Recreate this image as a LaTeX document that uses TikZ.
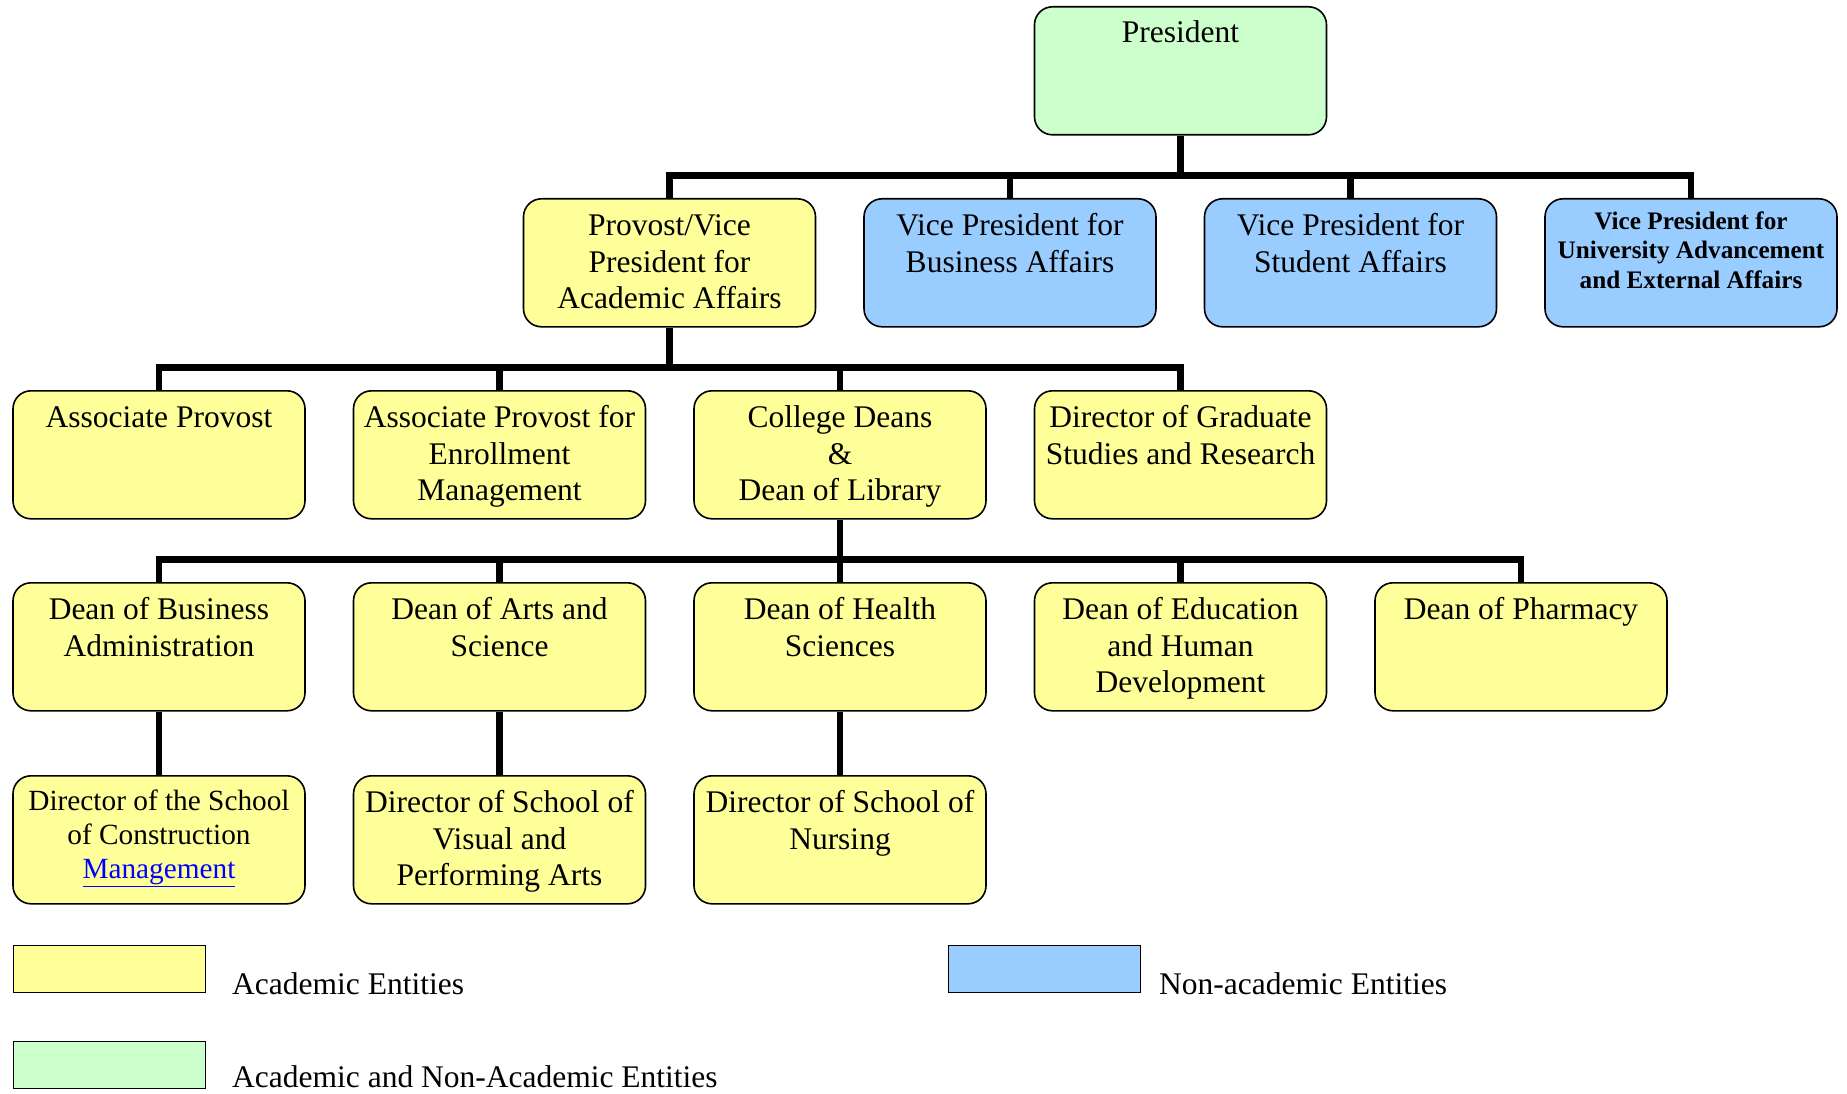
\documentclass[tikz,border=0pt]{standalone}
\usepackage{fontspec}
\setmainfont{Liberation Serif}
\definecolor{acad}{RGB}{255,255,153}
\definecolor{nonacad}{RGB}{153,204,255}
\definecolor{both}{RGB}{204,255,204}
\definecolor{linkblue}{RGB}{0,0,255}
\newcommand{\bt}[2][37pt]{\parbox[c][128pt][t]{290pt}{\centering\fontsize{31.5}{36.5}\selectfont\rule{0pt}{#1}#2}}
\begin{document}
\begin{tikzpicture}[x=1pt,y=-1pt,
  box/.style={draw=black, line width=1.6pt, rounded corners=18pt, minimum width=292pt, minimum height=128pt, inner sep=0pt, anchor=north},
  yel/.style={box, fill=acad},
  blu/.style={box, fill=nonacad},
  grn/.style={box, fill=both},
  conn/.style={draw=black, line width=6.5pt},
  leg/.style={draw=black, line width=1.4pt},
  legtext/.style={anchor=base west, inner sep=0pt, font=\fontsize{31.5}{36.5}\selectfont}]
\useasboundingbox (0,0) rectangle (1847,1094);
% row 1
\node[grn] (pres) at (1180.5,6) {\bt[36pt]{President}};
% row 2
\node[yel] (prov) at (669.5,198) {\bt{Provost/Vice\\President for\\Academic Affairs}};
\node[blu] (vpba) at (1010,198) {\bt{Vice President for\\Business Affairs}};
\node[blu] (vpsa) at (1350.5,198) {\bt{Vice President for\\Student Affairs}};
\node[blu] (vpua) at (1691,198) {\parbox[c][128pt][t]{290pt}{\centering\fontsize{25.2}{29.5}\selectfont\bfseries\rule{0pt}{30.5pt}Vice President for\\University Advancement\\and External Affairs}};
% row 3
\node[yel] (ap) at (159,390) {\bt{Associate Provost}};
\node[yel] (apem) at (499.5,390) {\bt{Associate Provost for\\Enrollment\\Management}};
\node[yel] (cd) at (840,390) {\bt{College Deans\\\&\\Dean of Library}};
\node[yel] (dgs) at (1180.5,390) {\bt{Director of Graduate\\Studies and Research}};
% row 4
\node[yel] (dba) at (159,582) {\bt{Dean of Business\\Administration}};
\node[yel] (das) at (499.5,582) {\bt{Dean of Arts and\\Science}};
\node[yel] (dhs) at (840,582) {\bt{Dean of Health\\Sciences}};
\node[yel] (dehd) at (1180.5,582) {\bt{Dean of Education\\and Human\\Development}};
\node[yel] (dph) at (1521,582) {\bt{Dean of Pharmacy}};
% row 5
\node[yel] (dscm) at (159,775) {\parbox[c][128pt][t]{290pt}{\centering\fontsize{29.3}{34}\selectfont\rule{0pt}{35pt}Director of the School\\of Construction\\\textcolor{linkblue}{\underline{Management}}}};
\node[yel] (dsvpa) at (499.5,775) {\bt{Director of School of\\Visual and\\Performing Arts}};
\node[yel] (dsn) at (840,775) {\bt{Director of School of\\Nursing}};
% connectors
\foreach \c in {prov,vpba,vpsa,vpua} \draw[conn] (pres.south) -- ++(0,40) -| (\c.north);
\foreach \c in {ap,apem,cd,dgs} \draw[conn] (prov.south) -- ++(0,40) -| (\c.north);
\foreach \c in {dba,das,dhs,dehd,dph} \draw[conn] (cd.south) -- ++(0,40) -| (\c.north);
\draw[conn] (dba.south) -- (dscm.north);
\draw[conn] (das.south) -- (dsvpa.north);
\draw[conn] (dhs.south) -- (dsn.north);
% legend
\node[leg, fill=acad, minimum width=192pt, minimum height=47pt, inner sep=0pt, anchor=north west] (lega) at (13,945) {};
\node[leg, fill=both, minimum width=192pt, minimum height=47pt, inner sep=0pt, anchor=north west] (legb) at (13,1041) {};
\node[leg, fill=nonacad, minimum width=192pt, minimum height=47pt, inner sep=0pt, anchor=north west] (legn) at (948,945) {};
\node[legtext] (legat) at (232,994) {Academic Entities};
\node[legtext] (legbt) at (232,1087) {Academic and Non-Academic Entities};
\node[legtext] (legnt) at (1159,994) {Non-academic Entities};
\end{tikzpicture}
\end{document}
